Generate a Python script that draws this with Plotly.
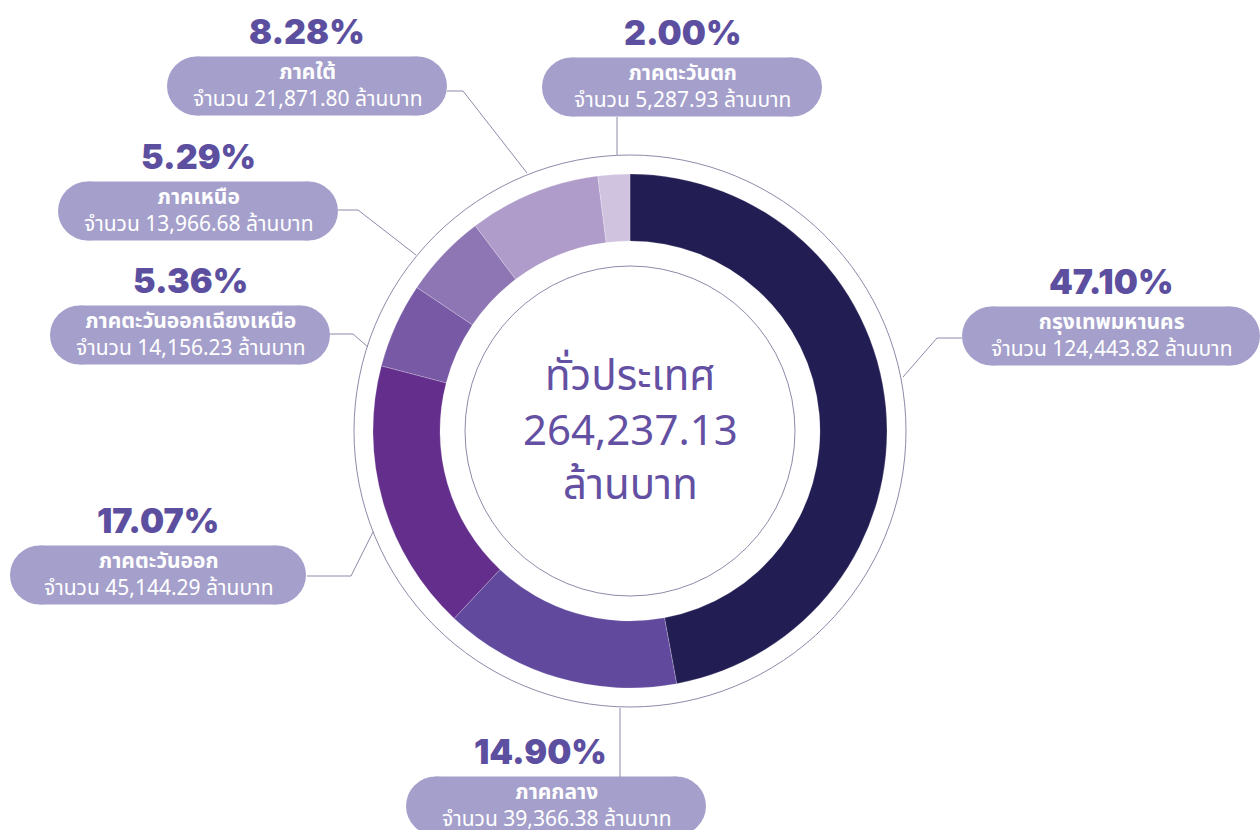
import plotly.graph_objects as go

# ---- data ----
regions = ["กรุงเทพมหานคร", "ภาคกลาง", "ภาคตะวันออก", "ภาคตะวันออกเฉียงเหนือ",
           "ภาคเหนือ", "ภาคใต้", "ภาคตะวันตก"]
values = [124443.82, 39366.38, 45144.29, 14156.23, 13966.68, 21871.80, 5287.93]
value_text = ["124,443.82", "39,366.38", "45,144.29", "14,156.23", "13,966.68", "21,871.80", "5,287.93"]
percents = ["47.10%", "14.90%", "17.07%", "5.36%", "5.29%", "8.28%", "2.00%"]
colors = ["#221D52", "#614A9E", "#642F8C", "#7759A5", "#8E76B4", "#B09CCA", "#D0C3DF"]
center_lines = ["ทั่วประเทศ", "264,237.13", "ล้านบาท"]

W, H = 1260, 830
CX, CY = 630, 431
R_OUT, R_IN = 257, 190
R_RING_OUT, R_RING_IN = 276, 165

# label layout: box centre x, box centre y, box half width, percent x, leader path
layout_pos = {
    "กรุงเทพมหานคร": dict(bx=1111, by=336, hw=149, px=1111, line=[(962, 338), (937, 338), (903, 377)]),
    "ภาคกลาง": dict(bx=556, by=806, hw=150, px=540, line=[(620, 777), (620, 708)]),
    "ภาคตะวันออก": dict(bx=158, by=575, hw=148, px=158, line=[(307, 576), (351, 576), (373, 532)]),
    "ภาคตะวันออกเฉียงเหนือ": dict(bx=190, by=335, hw=140, px=190, line=[(330, 334), (353, 334), (368, 347)]),
    "ภาคเหนือ": dict(bx=198, by=211, hw=140, px=198, line=[(338, 210), (358, 210), (416, 255)]),
    "ภาคใต้": dict(bx=307, by=86, hw=140, px=307, line=[(447, 91), (463, 91), (527, 173)]),
    "ภาคตะวันตก": dict(bx=682, by=87, hw=140, px=682, line=[(617, 117), (617, 155)]),
}
BOX_H = 59
BOX_COLOR = "#A59FCB"
PCT_COLOR = "#5D4FA0"
LINE_COLOR = "#8E8AA8"
FONT = "Noto Sans Thai, Noto Sans, Inter, sans-serif"

fig = go.Figure()

fig.add_trace(go.Pie(
    labels=regions, values=values, sort=False, direction="clockwise", rotation=0,
    hole=R_IN / R_OUT,
    marker=dict(colors=colors, line=dict(color="rgba(255,255,255,0.35)", width=0.6)),
    textinfo="none", hoverinfo="label+value+percent", showlegend=False,
    domain=dict(x=[(CX - R_OUT) / W, (CX + R_OUT) / W],
                y=[(H - CY - R_OUT) / H, (H - CY + R_OUT) / H]),
))

shapes = []
# thin rings
for r in (R_RING_OUT, R_RING_IN):
    shapes.append(dict(type="circle", xref="x", yref="y", x0=CX - r, x1=CX + r,
                       y0=CY - r, y1=CY + r, line=dict(color=LINE_COLOR, width=1),
                       layer="below"))

annotations = []
for name, val_t, pct in zip(regions, value_text, percents):
    p = layout_pos[name]
    bx, by, hw = p["bx"], p["by"], p["hw"]
    rr = BOX_H / 2
    # pill box: rect + two end circles
    shapes.append(dict(type="rect", xref="x", yref="y", x0=bx - hw + rr, x1=bx + hw - rr,
                       y0=by - rr, y1=by + rr, fillcolor=BOX_COLOR, line=dict(width=0),
                       layer="below"))
    for ex in (bx - hw + rr, bx + hw - rr):
        shapes.append(dict(type="circle", xref="x", yref="y", x0=ex - rr, x1=ex + rr,
                           y0=by - rr, y1=by + rr, fillcolor=BOX_COLOR, line=dict(width=0),
                           layer="below"))
    # leader line
    pts = p["line"]
    path = "M " + " L ".join(f"{x},{y}" for x, y in pts)
    shapes.append(dict(type="path", xref="x", yref="y", path=path,
                       line=dict(color=LINE_COLOR, width=1), layer="below"))
    # texts
    annotations.append(dict(x=bx, y=by, xref="x", yref="y",
                            text=f"<b>{name}</b><br>จำนวน {val_t} ล้านบาท",
                            showarrow=False, align="center",
                            font=dict(family=FONT, size=21, color="white")))
    annotations.append(dict(x=p["px"], y=by - 55, xref="x", yref="y", text=pct,
                            showarrow=False,
                            font=dict(family="Inter, Lato, sans-serif", size=34, color=PCT_COLOR,
                                      weight=900)))

annotations.append(dict(x=CX, y=CY, xref="x", yref="y", text="<br>".join(center_lines),
                        showarrow=False, align="center",
                        font=dict(family=FONT, size=42, color="#6350A3")))

fig.update_layout(
    width=W, height=H, margin=dict(l=0, r=0, t=0, b=0),
    paper_bgcolor="white", plot_bgcolor="white",
    xaxis=dict(range=[0, W], visible=False, fixedrange=True),
    yaxis=dict(range=[H, 0], visible=False, fixedrange=True),
    shapes=shapes, annotations=annotations,
)

fig.write_html("out.html", config=dict(displayModeBar=False),
               post_script="document.body.style.margin='0';document.body.style.padding='0';")
